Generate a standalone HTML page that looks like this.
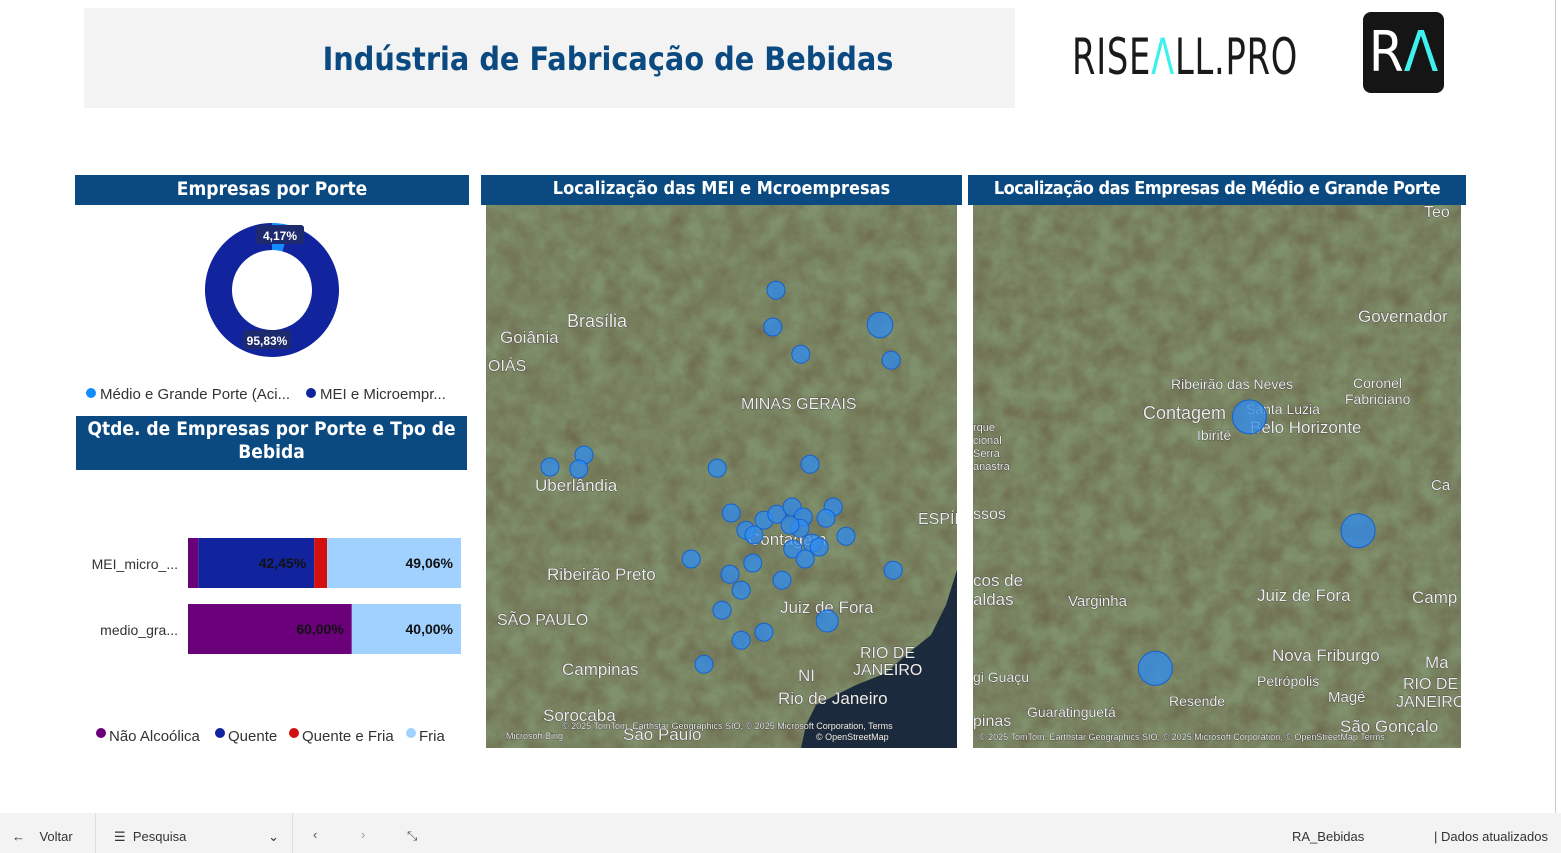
<!DOCTYPE html>
<html><head><meta charset="utf-8"><style>
*{box-sizing:border-box;margin:0;padding:0}
body{width:1561px;height:853px;background:#fff;font-family:"Liberation Sans","DejaVu Sans",sans-serif;position:relative;overflow:hidden}
.abs{position:absolute}
.hdr{background:#0b4a80;color:#fff;font-weight:bold;text-align:center;font-family:"DejaVu Sans Condensed","Liberation Sans Narrow","Liberation Sans",sans-serif;white-space:nowrap;overflow:hidden}
</style></head><body>
<div class="abs" style="left:84px;top:8px;width:931px;height:100px;background:#f3f3f3"></div>
<div class="abs" style="left:84px;top:40px;width:1048px;text-align:center;font-size:32px;font-weight:bold;color:#0b4a80;font-family:'DejaVu Sans Condensed','DejaVu Sans','Liberation Sans',sans-serif">Indústria de Fabricação de Bebidas</div>
<div class="abs" style="left:1072px;top:28px;font-size:50px;color:#1a1a1a;font-family:'DejaVu Sans Condensed','Liberation Sans Narrow',sans-serif;transform:scaleX(0.75);transform-origin:left;letter-spacing:1px">RISE<span style="color:#3ef0ee">Λ</span>LL.PRO</div>
<div class="abs" style="left:1363px;top:12px;width:81px;height:81px;background:#151515;border-radius:8px;color:#fff;font-size:56px;font-family:'DejaVu Sans Condensed',sans-serif;text-align:center;line-height:81px">R<span style="color:#3ef0ee">Λ</span></div>
<div class="abs" style="left:1555px;top:0;width:1px;height:813px;background:#ccc"></div>

<div class="abs hdr" style="left:75px;top:175px;width:394px;height:30px;font-size:19px;line-height:28px">Empresas por Porte</div>
<svg class="abs" style="left:75px;top:205px" width="400" height="210" id="donut"></svg>

<div class="abs hdr" style="left:76px;top:416px;width:391px;height:54px;font-size:19px;line-height:23px;padding-top:2px;white-space:normal">Qtde. de Empresas por Porte e Tpo de Bebida</div>
<svg class="abs" style="left:75px;top:470px" width="400" height="290" id="bars"></svg>

<div class="abs hdr" style="left:481px;top:175px;width:481px;height:30px;font-size:18px;line-height:28px">Localização das MEI e Mcroempresas</div>
<svg class="abs" style="left:486px;top:205px" width="471" height="543" id="map1"></svg>
<div class="abs hdr" style="left:968px;top:175px;width:498px;height:30px;font-size:18px;line-height:28px;letter-spacing:-0.5px">Localização das Empresas de Médio e Grande Porte</div>
<svg class="abs" style="left:973px;top:205px" width="488" height="543" id="map2"></svg>

<div class="abs" style="left:0;top:813px;width:1561px;height:40px;background:#f3f3f3;font-size:13px;color:#333">
 <div class="abs" style="left:12px;top:16px">←&nbsp;&nbsp;&nbsp;&nbsp;Voltar</div>
 <div class="abs" style="left:95px;top:0;width:1px;height:40px;background:#ddd"></div>
 <div class="abs" style="left:114px;top:16px;width:165px">☰&nbsp; Pesquisa<span style="float:right">⌄</span></div>
 <div class="abs" style="left:292px;top:0;width:1px;height:40px;background:#ddd"></div>
 <div class="abs" style="left:313px;top:14px;color:#555">‹</div>
 <div class="abs" style="left:361px;top:14px;color:#999">›</div>
 <div class="abs" style="left:407px;top:15px;color:#555">⤡</div>
 <div class="abs" style="left:1292px;top:16px">RA_Bebidas</div>
 <div class="abs" style="left:1434px;top:16px">| Dados atualizados</div>
</div>

<script>
const NS='http://www.w3.org/2000/svg';
function mk(p,t,a){const e=document.createElementNS(NS,t);for(const k in a)e.setAttribute(k,a[k]);p.appendChild(e);return e;}
// ---- Donut data
const donutCats=['Médio e Grande Porte (Aci...','MEI e Microempr...'];
const donutVals=[4.17,95.83];
const donutColors=['#118dff','#12239e'];
const dn=document.getElementById('donut');
const cx=197,cy=85,R=67,r=40;let a0=-Math.PI/2;
const tot=donutVals.reduce((a,b)=>a+b,0);
donutVals.forEach((v,i)=>{
 const a1=a0+v/tot*2*Math.PI,lg=(a1-a0)>Math.PI?1:0;
 const p=`M${cx+R*Math.cos(a0)},${cy+R*Math.sin(a0)}A${R},${R} 0 ${lg} 1 ${cx+R*Math.cos(a1)},${cy+R*Math.sin(a1)}L${cx+r*Math.cos(a1)},${cy+r*Math.sin(a1)}A${r},${r} 0 ${lg} 0 ${cx+r*Math.cos(a0)},${cy+r*Math.sin(a0)}Z`;
 const s=mk(dn,'path',{d:p,fill:donutColors[i]});
 
 
 a0=a1;
});
[[203,31,donutVals[0]],[190,136,donutVals[1]]].forEach((q,i)=>{
 mk(dn,'rect',{x:q[0]-22,y:q[1]-11,width:48,height:19,rx:3,fill:'#1e2a6e'});
 const t=mk(dn,'text',{x:q[0]+2,y:q[1]+4,'text-anchor':'middle','font-size':12,'font-weight':'bold',fill:'#fff'});
 t.textContent=q[2].toFixed(2).replace('.',',')+'%';
 
 
});
let lx=11;
donutCats.forEach((c,i)=>{
 const d=mk(dn,'circle',{cx:lx+5,cy:188,r:5,fill:donutColors[i]});
 
 
 const t=mk(dn,'text',{x:lx+14,y:194,'font-size':15,fill:'#333'});t.textContent=c;
 
 
 lx+=220;
});
// ---- Stacked bar data
const barCats=['MEI_micro_...','medio_gra...'];
const barSeries=['Não Alcoólica','Quente','Quente e Fria','Fria'];
const barColors=['#6b007b','#12239e','#d21010','#a0d1ff'];
const serNao=[3.77,60.00];
const serQuente=[42.45,0];
const serQF=[4.72,0];
const serFria=[49.06,40.00];
const allSer=[serNao,serQuente,serQF,serFria];
const bs=document.getElementById('bars');
const x0=113,bw=273;const xs=v=>v/100*bw;
barCats.forEach((c,j)=>{
 const y=68+j*66;let x=x0;
 const t=mk(bs,'text',{x:103,y:y+31,'text-anchor':'end','font-size':14,fill:'#333'});t.textContent=c;
 
 
 allSer.forEach((s,i)=>{
  const v=s[j];if(!v)return;const w=xs(v);
  const b=mk(bs,'rect',{x:x,y:y,width:w,height:50,fill:barColors[i]});
  
  
  if(v>20){const l=mk(bs,'text',{x:x+w-8,y:y+30,'text-anchor':'end','font-size':14,'font-weight':'bold',fill:'#111'});l.textContent=v.toFixed(2).replace('.',',')+'%';
   
   }
  x+=w;
 });
});
let bx=20;
barSeries.forEach((c,i)=>{
 const d=mk(bs,'circle',{cx:bx+6,cy:263,r:5,fill:barColors[i]});
 
 
 const t=mk(bs,'text',{x:bx+14,y:271,'font-size':15,fill:'#333'});t.textContent=c;
 
 
 bx+=[119,74,117,60][i];
});
// ---- Maps
function mapBg(svg,w,h,ocean,id){
 const defs=mk(svg,'defs',{});
 const f=mk(defs,'filter',{id:'n'+id,x:0,y:0,width:'100%',height:'100%'});
 mk(f,'feTurbulence',{type:'fractalNoise',baseFrequency:0.05,numOctaves:4,seed:id*7});
 mk(f,'feColorMatrix',{values:'0 0 0 0 0.22  0 0 0 0 0.30  0 0 0 0 0.16  1.2 0.6 0 0 -0.3'});
 mk(svg,'rect',{width:w,height:h,fill:'#6e6b4e'});
 mk(svg,'rect',{width:w,height:h,filter:`url(#n${id})`,opacity:0.95});
 if(ocean)mk(svg,'path',{d:ocean,fill:'#1b2a3c'});
}
const m1=document.getElementById('map1');
mapBg(m1,471,543,'M471,365 L460,400 445,430 420,450 400,468 370,480 350,490 330,500 320,520 315,543 471,543Z',1);
const m2=document.getElementById('map2');
mapBg(m2,488,543,null,2);
function labels(svg,arr,pfx){arr.forEach(a=>{const t=mk(svg,'text',{x:a[0],y:a[1],'font-size':a[2]||17,fill:'#eee',stroke:'#222','stroke-width':0.6,'paint-order':'stroke'});t.textContent=a[3];
 
 });}
labels(m1,[[81,122,18,'Brasília'],[14,138,17,'Goiânia'],[2,166,16,'OIÁS'],[255,204,16,'MINAS GERAIS'],[49,286,17,'Uberlândia'],[262,340,17,'Contagem'],[432,319,16,'ESPÍR'],[61,375,17,'Ribeirão Preto'],[11,420,16,'SÃO PAULO'],[294,408,17,'Juiz de Fora'],[374,453,16,'RIO DE'],[367,470,16,'JANEIRO'],[76,470,17,'Campinas'],[312,476,17,'NI'],[292,499,17,'Rio de Janeiro'],[57,516,17,'Sorocaba'],[137,535,17,'São Paulo'],[20,534,9,'Microsoft Bing'],[76,524,9,'© 2025 TomTom, Earthstar Geographics SIO, © 2025 Microsoft Corporation,   Terms'],[330,535,9,'© OpenStreetMap']],'map1');
labels(m2,[[385,117,17,'Governador'],[198,184,14,'Ribeirão das Neves'],[380,183,14,'Coronel'],[372,199,14,'Fabriciano'],[170,214,18,'Contagem'],[273,209,14,'Santa Luzia'],[224,235,14,'Ibirité'],[277,228,17,'Belo Horizonte'],[0,226,11,'rque'],[0,239,11,'cional'],[0,252,11,'Serra'],[0,265,11,'anastra'],[0,314,16,'ssos'],[0,381,17,'cos de'],[0,400,17,'aldas'],[95,401,15,'Varginha'],[284,396,17,'Juiz de Fora'],[439,398,17,'Camp'],[299,456,17,'Nova Friburgo'],[0,477,14,'gi Guaçu'],[284,481,14,'Petrópolis'],[452,463,17,'Ma'],[430,484,16,'RIO DE'],[423,502,16,'JANEIRO'],[355,497,15,'Magé'],[196,501,14,'Resende'],[54,512,14,'Guaratinguetá'],[0,521,16,'pinas'],[367,527,17,'São Gonçalo'],[451,12,16,'Teo'],[458,285,15,'Ca'],[6,535,9,'© 2025 TomTom, Earthstar Geographics SIO, © 2025 Microsoft Corporation, © OpenStreetMap  Terms']],'map2');
// MEI bubble data
const meiLon=[-44.75,-44.83,-42.15,-44.13,-41.87,-50.4,-49.55,-49.68,-46.22,-43.9,-45.87,-45.05,-44.73,-44.35,-44.07,-44.15,-44.4,-43.32,-43.5,-45.5,-45.3,-43.85,-43.0,-44.33,-43.67,-44.02,-46.87,-45.33,-44.6,-45.9,-45.62,-46.1,-43.47,-45.05,-45.62,-46.55,-41.82];
const meiLat=[-16.13,-17.05,-17.0,-17.73,-17.88,-20.55,-20.25,-20.6,-20.58,-20.48,-21.7,-21.88,-21.73,-21.55,-21.8,-22.08,-22.0,-21.55,-21.83,-22.13,-22.25,-22.45,-22.28,-22.6,-22.55,-22.85,-22.85,-22.95,-23.38,-23.23,-23.63,-24.13,-24.4,-24.68,-24.88,-25.48,-23.13];
const meiCount=[1,1,2,1,1,1,1,1,1,1,1,1,1,1,1,1,1,1,1,1,1,1,1,1,1,1,1,1,1,1,1,1,1.5,1,1,1,1];
const m1x=lon=>(lon+52)*40, m1y=lat=>(-14-lat)*40;
meiLon.forEach((lo,i)=>{
 const c=mk(m1,'circle',{cx:m1x(lo),cy:m1y(meiLat[i]),r:9*Math.sqrt(meiCount[i]),fill:'#2f8cf0','fill-opacity':0.75,stroke:'#1560d0','stroke-width':1});
 
 
});
// Medio/grande bubble data
const mgLon=[-44.8,-43.68,-45.77];
const mgLat=[-19.89,-21.04,-22.43];
const mgCount=[1,1,1];
const m2x=lon=>(lon+47.65)*97, m2y=lat=>(-17.75-lat)*99;
mgLon.forEach((lo,i)=>{
 const c=mk(m2,'circle',{cx:m2x(lo),cy:m2y(mgLat[i]),r:17*Math.sqrt(mgCount[i]),fill:'#2f8cf0','fill-opacity':0.75,stroke:'#1560d0','stroke-width':1});
 
 
});
</script>
</body></html>
